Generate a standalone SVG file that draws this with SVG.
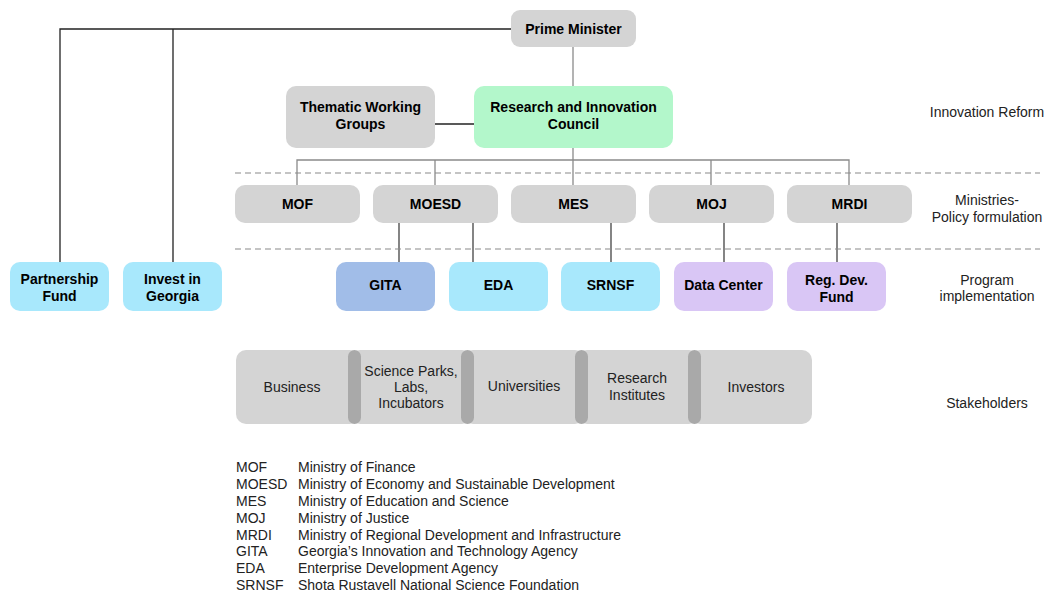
<svg xmlns="http://www.w3.org/2000/svg" width="1044" height="591" viewBox="0 0 1044 591">
<style>
.n{fill:#d4d4d4}
.g{fill:#b3f7cb}
.b{fill:#a8e8fc}
.gi{fill:#a1bde8}
.p{fill:#d9c6f5}
.sep{fill:#a9a9a9}
text{font-family:"Liberation Sans",Arial,sans-serif;fill:#000}
.t{font-size:14px;font-weight:bold;text-anchor:middle}
.s{font-size:14px;text-anchor:middle;fill:#222}
.r{font-size:14px;text-anchor:middle;fill:#222}
.l{font-size:14px;fill:#222}
.c1{stroke:#222;stroke-width:1.3;fill:none}
.c2{stroke:#8a8a8a;stroke-width:1.3;fill:none}
.c3{stroke:#444;stroke-width:1.3;fill:none}
.d{stroke:#8a8a8a;stroke-width:1.2;stroke-dasharray:6 4;fill:none}
</style>
<rect width="1044" height="591" fill="#fff"/>
<g id="connectors">
<path class="c1" d="M511 29 H60 V262 M173 29 V262"/>
<path class="c2" d="M573 47 V86"/>
<path class="c1" d="M435 124 H474"/>
<path class="c2" d="M573 148 V160 M297 185 V160 H849 V185 M435 160 V185 M573 160 V185 M711 160 V185"/>
<path class="c3" d="M399 223 V262 M473 223 V262 M611 223 V262 M724 223 V262 M837 223 V262"/>
<path class="d" d="M235 173 H1040 M235 249 H1040"/>
</g>
<g id="pm"><rect class="n" x="511" y="10" width="125" height="37" rx="9"/><text class="t" x="573.5" y="34">Prime Minister</text></g>
<g id="twg"><rect class="n" x="286" y="86" width="149" height="62" rx="10"/><text class="t" x="360.5" y="112">Thematic Working</text><text class="t" x="360.5" y="129">Groups</text></g>
<g id="ric"><rect class="g" x="474" y="86" width="199" height="62" rx="10"/><text class="t" x="573.5" y="112">Research and Innovation</text><text class="t" x="573.5" y="129">Council</text></g>
<g id="mof"><rect class="n" x="235" y="185" width="125" height="38" rx="10"/><text class="t" x="297.5" y="209">MOF</text></g>
<g id="moesd"><rect class="n" x="373" y="185" width="125" height="38" rx="10"/><text class="t" x="435.5" y="209">MOESD</text></g>
<g id="mes"><rect class="n" x="511" y="185" width="125" height="38" rx="10"/><text class="t" x="573.5" y="209">MES</text></g>
<g id="moj"><rect class="n" x="649" y="185" width="125" height="38" rx="10"/><text class="t" x="711.5" y="209">MOJ</text></g>
<g id="mrdi"><rect class="n" x="787" y="185" width="125" height="38" rx="10"/><text class="t" x="849.5" y="209">MRDI</text></g>
<g id="pf"><rect class="b" x="10" y="262" width="99" height="49" rx="10"/><text class="t" x="59.5" y="284">Partnership</text><text class="t" x="59.5" y="301">Fund</text></g>
<g id="iig"><rect class="b" x="123" y="262" width="99" height="49" rx="10"/><text class="t" x="172.5" y="284">Invest in</text><text class="t" x="172.5" y="301">Georgia</text></g>
<g id="gita"><rect class="gi" x="336" y="262" width="99" height="49" rx="10"/><text class="t" x="385.5" y="290">GITA</text></g>
<g id="eda"><rect class="b" x="449" y="262" width="99" height="49" rx="10"/><text class="t" x="498.5" y="290">EDA</text></g>
<g id="srnsf"><rect class="b" x="561" y="262" width="99" height="49" rx="10"/><text class="t" x="610.5" y="290">SRNSF</text></g>
<g id="dc"><rect class="p" x="674" y="262" width="99" height="49" rx="10"/><text class="t" x="723.5" y="290">Data Center</text></g>
<g id="rdf"><rect class="p" x="787" y="262" width="99" height="49" rx="10"/><text class="t" x="836.5" y="285">Reg. Dev.</text><text class="t" x="836.5" y="302">Fund</text></g>
<g id="stakeholders">
<rect class="n" x="236" y="350" width="124" height="74" rx="10"/>
<rect class="n" x="350" y="350" width="122" height="74" rx="10"/>
<rect class="n" x="463" y="350" width="122" height="74" rx="10"/>
<rect class="n" x="577" y="350" width="122" height="74" rx="10"/>
<rect class="n" x="690" y="350" width="122" height="74" rx="10"/>
<rect class="sep" x="348" y="350" width="13" height="74" rx="6.5"/>
<rect class="sep" x="461" y="350" width="13" height="74" rx="6.5"/>
<rect class="sep" x="575" y="350" width="13" height="74" rx="6.5"/>
<rect class="sep" x="688" y="350" width="13" height="74" rx="6.5"/>
<text class="s" x="292" y="392">Business</text>
<text class="s" x="411" y="376">Science Parks,</text>
<text class="s" x="411" y="392">Labs,</text>
<text class="s" x="411" y="408">Incubators</text>
<text class="s" x="524" y="391">Universities</text>
<text class="s" x="637" y="383">Research</text>
<text class="s" x="637" y="400">Institutes</text>
<text class="s" x="756" y="392">Investors</text>
</g>
<g id="levels">
<text class="r" x="987" y="117">Innovation Reform</text>
<text class="r" x="987" y="205">Ministries-</text>
<text class="r" x="987" y="222">Policy formulation</text>
<text class="r" x="987" y="285">Program</text>
<text class="r" x="987" y="301">implementation</text>
<text class="r" x="987" y="408">Stakeholders</text>
</g>
<g id="legend">
<text class="l" x="236" y="472">MOF</text><text class="l" x="298" y="472">Ministry of Finance</text>
<text class="l" x="236" y="489">MOESD</text><text class="l" x="298" y="489">Ministry of Economy and Sustainable Development</text>
<text class="l" x="236" y="506">MES</text><text class="l" x="298" y="506">Ministry of Education and Science</text>
<text class="l" x="236" y="523">MOJ</text><text class="l" x="298" y="523">Ministry of Justice</text>
<text class="l" x="236" y="540">MRDI</text><text class="l" x="298" y="540">Ministry of Regional Development and Infrastructure</text>
<text class="l" x="236" y="556">GITA</text><text class="l" x="298" y="556">Georgia’s Innovation and Technology Agency</text>
<text class="l" x="236" y="573">EDA</text><text class="l" x="298" y="573">Enterprise Development Agency</text>
<text class="l" x="236" y="590">SRNSF</text><text class="l" x="298" y="590">Shota Rustavell National Science Foundation</text>
</g>
</svg>
